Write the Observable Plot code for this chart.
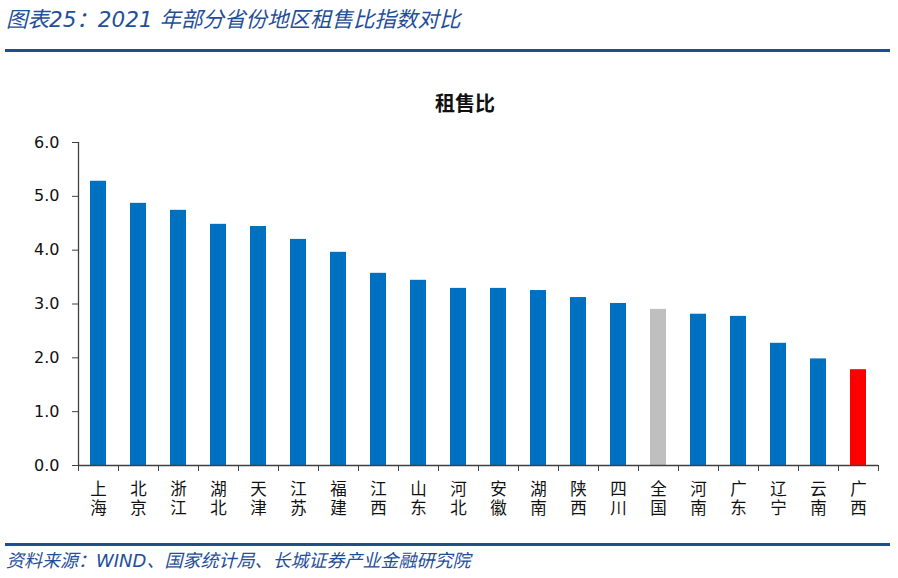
<!DOCTYPE html>
<html><head><meta charset="utf-8">
<script src="https://cdn.jsdelivr.net/npm/d3@7"></script>
<script src="https://cdn.jsdelivr.net/npm/@observablehq/plot@0.6"></script>
<style>
html,body{margin:0;padding:0;background:#fff;}
body{width:898px;height:578px;position:relative;overflow:hidden;font-family:"DejaVu Sans","Noto Sans CJK SC",sans-serif;}
#hdr{position:absolute;left:6px;top:2px;font-size:21.5px;font-style:italic;color:#1f4e9a;font-family:"DejaVu Sans","Noto Sans CJK SC",sans-serif;white-space:nowrap;}
#hline{position:absolute;left:5px;top:49px;width:885px;height:3px;background:#1f4e8f;}
#ctitle{position:absolute;left:0;top:88px;width:930px;text-align:center;font-size:20px;font-weight:bold;color:#111;font-family:"Noto Sans CJK SC",sans-serif;}
#chart{position:absolute;left:0;top:60px;}
#fline{position:absolute;left:5px;top:543px;width:885px;height:3px;background:#1f4e8f;}
#src{position:absolute;left:6px;top:546px;font-size:18px;font-style:italic;color:#1f4e9a;white-space:nowrap;}
</style></head>
<body>
<div id="hdr">图表25：2021 年部分省份地区租售比指数对比</div>
<div id="hline"></div>
<div id="ctitle">租售比</div>
<div id="chart"></div>
<div id="fline"></div>
<div id="src">资料来源：WIND、国家统计局、长城证券产业金融研究院</div>
<script>
const regions = ["上海","北京","浙江","湖北","天津","江苏","福建","江西","山东","河北","安徽","湖南","陕西","四川","全国","河南","广东","辽宁","云南","广西"];
const ratios = [5.28,4.87,4.74,4.48,4.44,4.20,3.96,3.57,3.44,3.29,3.29,3.25,3.12,3.01,2.90,2.81,2.77,2.27,1.98,1.78];
const yTicks = [0,1,2,3,4,5,6];
const barColor = r => r === "全国" ? "#bfbfbf" : r === "广西" ? "#ff0000" : "#0070c0";

const data = regions.map((r, i) => ({region: r, value: ratios[i]}));
const axisColor = "#404040";
const font = '"DejaVu Sans","Noto Sans CJK SC",sans-serif';

const chart = Plot.plot({
  width: 898,
  height: 470,
  marginTop: 82,
  marginLeft: 78,
  marginRight: 20,
  marginBottom: 65,
  style: {fontFamily: font, fontSize: "16px", color: "#111", background: "transparent"},
  x: {domain: regions, paddingInner: 0.6, paddingOuter: 0.3, align: 0.5},
  y: {domain: [0, 6]},
  marks: [
    Plot.barY(data, {x: "region", y: "value", fill: d => barColor(d.region)}),
    // y axis
    Plot.axisY({ticks: yTicks, tickFormat: d => d.toFixed(1), tickSize: 6, tickPadding: 13, stroke: axisColor, fontSize: 16, label: null}),
    Plot.ruleX([regions[0]], {x: d => d, y1: 0, y2: 6, dx: -20, stroke: axisColor, strokeWidth: 1.3}),
    // x axis line
    Plot.ruleY([0], {stroke: axisColor, strokeWidth: 1.3}),
    // x tick marks at band boundaries
    Plot.axisX({tickFormat: null, tickSize: 6, dx: -20, stroke: axisColor, label: null}),
    Plot.axisX([regions[regions.length - 1]], {tickFormat: null, tickSize: 6, dx: 20, stroke: axisColor, label: null}),
    // x labels stacked vertically
    Plot.axisX({tickSize: 0, tickPadding: 16, tickFormat: d => d.split("").join("\n"), fontSize: 16.5, lineHeight: 1.15, label: null, fill: "#111"})
  ]
});
document.getElementById("chart").appendChild(chart);
</script>
</body></html>
